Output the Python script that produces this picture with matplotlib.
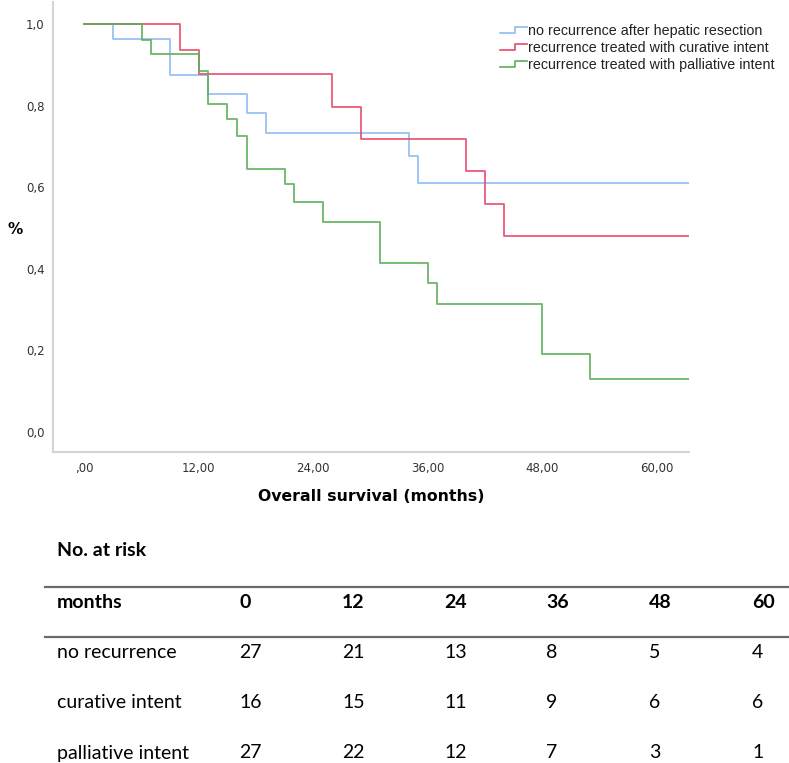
import matplotlib
matplotlib.use("Agg")
import matplotlib.pyplot as plt
from matplotlib.lines import Line2D
from matplotlib.legend_handler import HandlerBase

# ---- data ----
blue_t = [0, 3, 9, 13, 17, 19, 34, 35]
blue_s = [1.0, 0.963, 0.875, 0.829, 0.783, 0.734, 0.678, 0.611]
red_t = [0, 10, 12, 26, 29, 40, 42, 44]
red_s = [1.0, 0.938, 0.877, 0.798, 0.719, 0.641, 0.560, 0.481]
green_t = [0, 6, 7, 12, 13, 15, 16, 17, 21, 22, 25, 31, 36, 37, 48, 53]
green_s = [1.0, 0.962, 0.928, 0.886, 0.805, 0.768, 0.727, 0.646, 0.607, 0.563,
           0.516, 0.415, 0.364, 0.313, 0.190, 0.129]
followup_end = 63.4

series_labels = ["no recurrence after hepatic resection",
                 "recurrence treated with curative intent",
                 "recurrence treated with palliative intent"]
x_ticks = [0, 12, 24, 36, 48, 60]
x_ticklabels = [",00", "12,00", "24,00", "36,00", "48,00", "60,00"]
y_ticks = [0.0, 0.2, 0.4, 0.6, 0.8, 1.0]
y_ticklabels = ["0,0", "0,2", "0,4", "0,6", "0,8", "1,0"]

table_header = ["0", "12", "24", "36", "48", "60"]
table_rows = ["no recurrence", "curative intent", "palliative intent"]
risk_no_rec = [27, 21, 13, 8, 5, 4]
risk_curative = [16, 15, 11, 9, 6, 6]
risk_palliative = [27, 22, 12, 7, 3, 1]

colors = ["#8cbcf0", "#e8486a", "#5cae58"]

W, H = 789, 763
fig = plt.figure(figsize=(W / 100, H / 100), dpi=100)
ax = fig.add_axes([53 / W, 1 - 452 / H, (689 - 53) / W, (452 - 2) / H])

for t, s, c in [(blue_t, blue_s, colors[0]), (red_t, red_s, colors[1]),
                (green_t, green_s, colors[2])]:
    ax.step(list(t) + [followup_end], list(s) + [s[-1]], where="post",
            color=c, lw=1.3, alpha=0.9)

ax.set_xlim(-3.3, 63.4)
ax.set_ylim(-0.050, 1.055)
ax.set_xticks(x_ticks)
ax.set_xticklabels(x_ticklabels)
ax.set_yticks(y_ticks)
ax.set_yticklabels(y_ticklabels)
ax.tick_params(length=0, labelsize=8.5, colors="#333333")
ax.tick_params(axis="x", pad=7)
ax.tick_params(axis="y", pad=6)
for sp in ["top", "right"]:
    ax.spines[sp].set_visible(False)
for sp in ["left", "bottom"]:
    ax.spines[sp].set_color("#d4d4d4")
    ax.spines[sp].set_linewidth(1.5)

ax.set_xlabel("Overall survival (months)", fontsize=11.3, fontweight="bold",
              family="DejaVu Sans", labelpad=10)
fig.text(7 / W, 1 - 229 / H, "%", fontsize=11, fontweight="bold",
         ha="left", va="center")


class StepHandler(HandlerBase):
    def create_artists(self, legend, orig_handle, xdescent, ydescent, width,
                       height, fontsize, trans):
        x0 = -xdescent
        y0 = -ydescent
        xs = [x0, x0 + width * 0.55, x0 + width * 0.55, x0 + width]
        ys = [y0 + height * 0.2, y0 + height * 0.2, y0 + height * 0.8, y0 + height * 0.8]
        ln = Line2D(xs, ys, color=orig_handle.get_color(), lw=1.2)
        ln.set_transform(trans)
        return [ln]


handles = [Line2D([], [], color=c) for c in colors]
leg = fig.legend(handles, series_labels, loc="upper left",
                 bbox_to_anchor=(500 / W, 1 - 24 / H), frameon=False,
                 prop={"family": "Liberation Sans", "size": 10.3},
                 handler_map={Line2D: StepHandler()}, handlelength=1.9,
                 handletextpad=0.05, labelspacing=0.22, borderpad=0,
                 borderaxespad=0)
for txt in leg.get_texts():
    txt.set_color("#222222")

# ---- at-risk table ----
tfont = "Lato"
fs = 14
fig.text(57 / W, 1 - 551 / H, "No. at risk", fontsize=fs, fontweight="bold",
         family=tfont, va="center", ha="left")
for yline in [587, 637]:
    fig.add_artist(Line2D([45 / W, 1.0], [1 - yline / H, 1 - yline / H],
                          color="#6a6a6a", lw=1.6))
col_x = [239, 342, 444, 546, 649, 752]
fig.text(57 / W, 1 - 602 / H, "months", fontsize=fs, fontweight="bold",
         family=tfont, va="center", ha="left")
for x, h in zip(col_x, table_header):
    fig.text(x / W, 1 - 602 / H, h, fontsize=fs, fontweight="bold",
             family=tfont, va="center", ha="left")
row_y = [653, 703, 753]
for y, name, vals in zip(row_y, table_rows,
                         [risk_no_rec, risk_curative, risk_palliative]):
    fig.text(57 / W, 1 - y / H, name, fontsize=fs, family=tfont,
             va="center", ha="left")
    for x, v in zip(col_x, vals):
        fig.text(x / W, 1 - y / H, str(v), fontsize=fs, family=tfont,
                 va="center", ha="left")

fig.savefig("out.png", dpi=100)
